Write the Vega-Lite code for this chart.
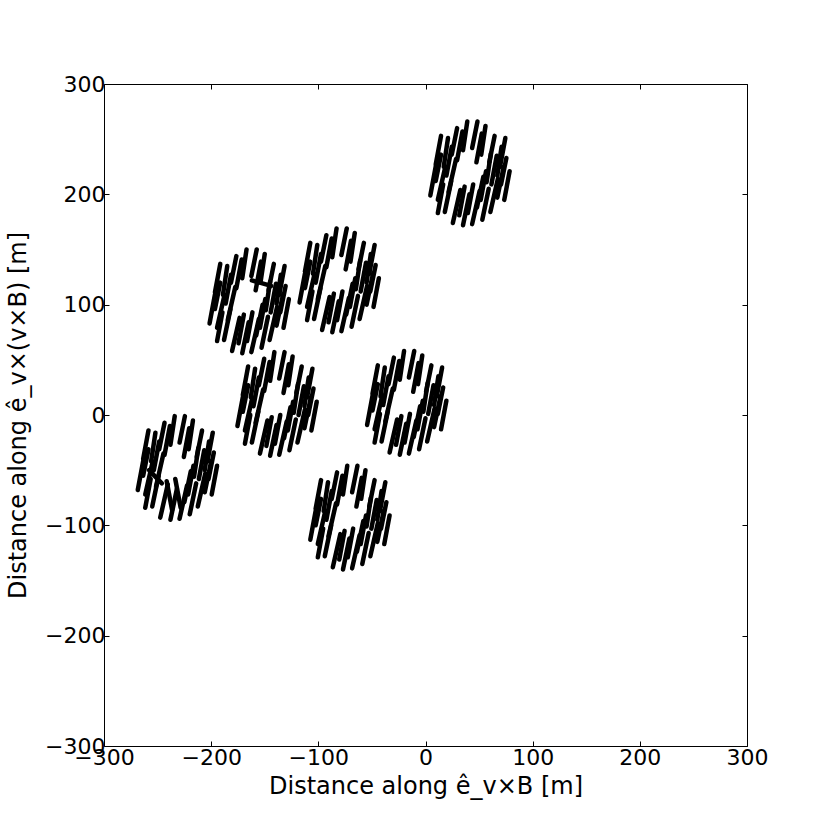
{
 "$schema": "https://vega.github.io/schema/vega-lite/v6.json",
 "width": 643, "height": 662,
 "autosize": "none",
 "padding": {"left": 104, "top": 84, "right": 83, "bottom": 84},
 "background": "white",
 "config": {
  "font": "DejaVu Sans",
  "view": {"stroke": "black", "strokeWidth": 1},
  "axis": {"grid": false, "domain": false, "tickColor": "black", "tickSize": -5, "labelColor": "black", "labelFontSize": 22, "labelFlush": false, "labelOverlap": false, "titleFontSize": 24, "titleFontWeight": "normal", "titleColor": "black"}
 },
 "data": {"values": [
  {"s":1,"x1":9.5,"y1":212,"x2":14.5,"y2":236},
  {"s":1,"x1":11.5,"y1":195,"x2":18.5,"y2":225},
  {"s":1,"x1":17,"y1":225,"x2":21,"y2":251},
  {"s":1,"x1":18,"y1":184,"x2":24,"y2":212},
  {"s":1,"x1":24.5,"y1":236,"x2":29.5,"y2":260},
  {"s":1,"x1":25.5,"y1":174,"x2":32.5,"y2":204},
  {"s":1,"x1":35,"y1":240,"x2":39,"y2":266},
  {"s":1,"x1":35,"y1":172,"x2":41,"y2":200},
  {"s":1,"x1":43.5,"y1":242,"x2":48.5,"y2":266},
  {"s":1,"x1":43.5,"y1":173,"x2":50.5,"y2":203},
  {"s":1,"x1":52,"y1":236,"x2":56,"y2":262},
  {"s":1,"x1":53,"y1":177,"x2":59,"y2":205},
  {"s":1,"x1":59.5,"y1":229,"x2":64.5,"y2":253},
  {"s":1,"x1":60.5,"y1":184,"x2":67.5,"y2":214},
  {"s":1,"x1":67,"y1":217,"x2":71,"y2":243},
  {"s":1,"x1":67,"y1":197,"x2":73,"y2":225},
  {"s":1,"x1":70.5,"y1":209,"x2":75.5,"y2":233},
  {"s":1,"x1":21.5,"y1":202,"x2":28.5,"y2":232},
  {"s":1,"x1":57,"y1":211,"x2":61,"y2":237},
  {"s":1,"x1":48,"y1":188,"x2":54,"y2":216},
  {"s":1,"x1":4.5,"y1":199,"x2":9.5,"y2":225},
  {"s":1,"x1":19.5,"y1":217,"x2":24.5,"y2":243},
  {"s":1,"x1":29.5,"y1":231,"x2":34.5,"y2":257},
  {"s":1,"x1":47.5,"y1":229,"x2":52.5,"y2":255},
  {"s":1,"x1":61.5,"y1":209,"x2":66.5,"y2":235},
  {"s":1,"x1":31.5,"y1":181,"x2":36.5,"y2":207},
  {"s":1,"x1":51.5,"y1":195,"x2":56.5,"y2":221},
  {"s":1,"x1":39.5,"y1":183,"x2":44.5,"y2":209},
  {"s":1,"x1":73.5,"y1":195,"x2":78.5,"y2":221},
  {"s":1,"x1":9.5,"y1":227,"x2":14.5,"y2":253},
  {"s":1,"x1":69.5,"y1":225,"x2":74.5,"y2":251},
  {"s":1,"x1":11.5,"y1":183,"x2":16.5,"y2":209},
  {"s":2,"x1":-196.5,"y1":96,"x2":-191.5,"y2":120},
  {"s":2,"x1":-194.5,"y1":79,"x2":-187.5,"y2":109},
  {"s":2,"x1":-189,"y1":109,"x2":-185,"y2":135},
  {"s":2,"x1":-188,"y1":68,"x2":-182,"y2":96},
  {"s":2,"x1":-181.5,"y1":120,"x2":-176.5,"y2":144},
  {"s":2,"x1":-180.5,"y1":58,"x2":-173.5,"y2":88},
  {"s":2,"x1":-171,"y1":124,"x2":-167,"y2":150},
  {"s":2,"x1":-171,"y1":56,"x2":-165,"y2":84},
  {"s":2,"x1":-162.5,"y1":126,"x2":-157.5,"y2":150},
  {"s":2,"x1":-162.5,"y1":57,"x2":-155.5,"y2":87},
  {"s":2,"x1":-154,"y1":120,"x2":-150,"y2":146},
  {"s":2,"x1":-153,"y1":61,"x2":-147,"y2":89},
  {"s":2,"x1":-146.5,"y1":113,"x2":-141.5,"y2":137},
  {"s":2,"x1":-145.5,"y1":68,"x2":-138.5,"y2":98},
  {"s":2,"x1":-139,"y1":101,"x2":-135,"y2":127},
  {"s":2,"x1":-139,"y1":81,"x2":-133,"y2":109},
  {"s":2,"x1":-135.5,"y1":93,"x2":-130.5,"y2":117},
  {"s":2,"x1":-184.5,"y1":86,"x2":-177.5,"y2":116},
  {"s":2,"x1":-149,"y1":95,"x2":-145,"y2":121},
  {"s":2,"x1":-158,"y1":72,"x2":-152,"y2":100},
  {"s":2,"x1":-162,"y1":122,"x2":-144,"y2":117},
  {"s":2,"x1":-201.5,"y1":83,"x2":-196.5,"y2":109},
  {"s":2,"x1":-186.5,"y1":101,"x2":-181.5,"y2":127},
  {"s":2,"x1":-176.5,"y1":115,"x2":-171.5,"y2":141},
  {"s":2,"x1":-158.5,"y1":113,"x2":-153.5,"y2":139},
  {"s":2,"x1":-144.5,"y1":93,"x2":-139.5,"y2":119},
  {"s":2,"x1":-174.5,"y1":65,"x2":-169.5,"y2":91},
  {"s":2,"x1":-154.5,"y1":79,"x2":-149.5,"y2":105},
  {"s":2,"x1":-166.5,"y1":67,"x2":-161.5,"y2":93},
  {"s":2,"x1":-132.5,"y1":79,"x2":-127.5,"y2":105},
  {"s":2,"x1":-196.5,"y1":111,"x2":-191.5,"y2":137},
  {"s":2,"x1":-136.5,"y1":109,"x2":-131.5,"y2":135},
  {"s":2,"x1":-194.5,"y1":67,"x2":-189.5,"y2":93},
  {"s":3,"x1":-112.5,"y1":115,"x2":-107.5,"y2":139},
  {"s":3,"x1":-110.5,"y1":98,"x2":-103.5,"y2":128},
  {"s":3,"x1":-105,"y1":128,"x2":-101,"y2":154},
  {"s":3,"x1":-104,"y1":87,"x2":-98,"y2":115},
  {"s":3,"x1":-97.5,"y1":139,"x2":-92.5,"y2":163},
  {"s":3,"x1":-96.5,"y1":77,"x2":-89.5,"y2":107},
  {"s":3,"x1":-87,"y1":143,"x2":-83,"y2":169},
  {"s":3,"x1":-87,"y1":75,"x2":-81,"y2":103},
  {"s":3,"x1":-78.5,"y1":145,"x2":-73.5,"y2":169},
  {"s":3,"x1":-78.5,"y1":76,"x2":-71.5,"y2":106},
  {"s":3,"x1":-70,"y1":139,"x2":-66,"y2":165},
  {"s":3,"x1":-69,"y1":80,"x2":-63,"y2":108},
  {"s":3,"x1":-62.5,"y1":132,"x2":-57.5,"y2":156},
  {"s":3,"x1":-61.5,"y1":87,"x2":-54.5,"y2":117},
  {"s":3,"x1":-55,"y1":120,"x2":-51,"y2":146},
  {"s":3,"x1":-55,"y1":100,"x2":-49,"y2":128},
  {"s":3,"x1":-51.5,"y1":112,"x2":-46.5,"y2":136},
  {"s":3,"x1":-100.5,"y1":105,"x2":-93.5,"y2":135},
  {"s":3,"x1":-65,"y1":114,"x2":-61,"y2":140},
  {"s":3,"x1":-74,"y1":91,"x2":-68,"y2":119},
  {"s":3,"x1":-117.5,"y1":102,"x2":-112.5,"y2":128},
  {"s":3,"x1":-102.5,"y1":120,"x2":-97.5,"y2":146},
  {"s":3,"x1":-92.5,"y1":134,"x2":-87.5,"y2":160},
  {"s":3,"x1":-74.5,"y1":132,"x2":-69.5,"y2":158},
  {"s":3,"x1":-60.5,"y1":112,"x2":-55.5,"y2":138},
  {"s":3,"x1":-90.5,"y1":84,"x2":-85.5,"y2":110},
  {"s":3,"x1":-70.5,"y1":98,"x2":-65.5,"y2":124},
  {"s":3,"x1":-82.5,"y1":86,"x2":-77.5,"y2":112},
  {"s":3,"x1":-48.5,"y1":98,"x2":-43.5,"y2":124},
  {"s":3,"x1":-112.5,"y1":130,"x2":-107.5,"y2":156},
  {"s":3,"x1":-52.5,"y1":128,"x2":-47.5,"y2":154},
  {"s":3,"x1":-110.5,"y1":86,"x2":-105.5,"y2":112},
  {"s":4,"x1":-170.5,"y1":3,"x2":-165.5,"y2":27},
  {"s":4,"x1":-168.5,"y1":-14,"x2":-161.5,"y2":16},
  {"s":4,"x1":-163,"y1":16,"x2":-159,"y2":42},
  {"s":4,"x1":-162,"y1":-25,"x2":-156,"y2":3},
  {"s":4,"x1":-155.5,"y1":27,"x2":-150.5,"y2":51},
  {"s":4,"x1":-154.5,"y1":-35,"x2":-147.5,"y2":-5},
  {"s":4,"x1":-145,"y1":31,"x2":-141,"y2":57},
  {"s":4,"x1":-145,"y1":-37,"x2":-139,"y2":-9},
  {"s":4,"x1":-136.5,"y1":33,"x2":-131.5,"y2":57},
  {"s":4,"x1":-136.5,"y1":-36,"x2":-129.5,"y2":-6},
  {"s":4,"x1":-128,"y1":27,"x2":-124,"y2":53},
  {"s":4,"x1":-127,"y1":-32,"x2":-121,"y2":-4},
  {"s":4,"x1":-120.5,"y1":20,"x2":-115.5,"y2":44},
  {"s":4,"x1":-119.5,"y1":-25,"x2":-112.5,"y2":5},
  {"s":4,"x1":-113,"y1":8,"x2":-109,"y2":34},
  {"s":4,"x1":-113,"y1":-12,"x2":-107,"y2":16},
  {"s":4,"x1":-109.5,"y1":0,"x2":-104.5,"y2":24},
  {"s":4,"x1":-158.5,"y1":-7,"x2":-151.5,"y2":23},
  {"s":4,"x1":-123,"y1":2,"x2":-119,"y2":28},
  {"s":4,"x1":-132,"y1":-21,"x2":-126,"y2":7},
  {"s":4,"x1":-175.5,"y1":-10,"x2":-170.5,"y2":16},
  {"s":4,"x1":-160.5,"y1":8,"x2":-155.5,"y2":34},
  {"s":4,"x1":-150.5,"y1":22,"x2":-145.5,"y2":48},
  {"s":4,"x1":-132.5,"y1":20,"x2":-127.5,"y2":46},
  {"s":4,"x1":-118.5,"y1":0,"x2":-113.5,"y2":26},
  {"s":4,"x1":-148.5,"y1":-28,"x2":-143.5,"y2":-2},
  {"s":4,"x1":-128.5,"y1":-14,"x2":-123.5,"y2":12},
  {"s":4,"x1":-140.5,"y1":-26,"x2":-135.5,"y2":0},
  {"s":4,"x1":-106.5,"y1":-14,"x2":-101.5,"y2":12},
  {"s":4,"x1":-170.5,"y1":18,"x2":-165.5,"y2":44},
  {"s":4,"x1":-110.5,"y1":16,"x2":-105.5,"y2":42},
  {"s":4,"x1":-168.5,"y1":-26,"x2":-163.5,"y2":0},
  {"s":5,"x1":-49.5,"y1":4,"x2":-44.5,"y2":28},
  {"s":5,"x1":-47.5,"y1":-13,"x2":-40.5,"y2":17},
  {"s":5,"x1":-42,"y1":17,"x2":-38,"y2":43},
  {"s":5,"x1":-41,"y1":-24,"x2":-35,"y2":4},
  {"s":5,"x1":-34.5,"y1":28,"x2":-29.5,"y2":52},
  {"s":5,"x1":-33.5,"y1":-34,"x2":-26.5,"y2":-4},
  {"s":5,"x1":-24,"y1":32,"x2":-20,"y2":58},
  {"s":5,"x1":-24,"y1":-36,"x2":-18,"y2":-8},
  {"s":5,"x1":-15.5,"y1":34,"x2":-10.5,"y2":58},
  {"s":5,"x1":-15.5,"y1":-35,"x2":-8.5,"y2":-5},
  {"s":5,"x1":-7,"y1":28,"x2":-3,"y2":54},
  {"s":5,"x1":-6,"y1":-31,"x2":0,"y2":-3},
  {"s":5,"x1":0.5,"y1":21,"x2":5.5,"y2":45},
  {"s":5,"x1":1.5,"y1":-24,"x2":8.5,"y2":6},
  {"s":5,"x1":8,"y1":9,"x2":12,"y2":35},
  {"s":5,"x1":8,"y1":-11,"x2":14,"y2":17},
  {"s":5,"x1":11.5,"y1":1,"x2":16.5,"y2":25},
  {"s":5,"x1":-37.5,"y1":-6,"x2":-30.5,"y2":24},
  {"s":5,"x1":-2,"y1":3,"x2":2,"y2":29},
  {"s":5,"x1":-11,"y1":-20,"x2":-5,"y2":8},
  {"s":5,"x1":-54.5,"y1":-9,"x2":-49.5,"y2":17},
  {"s":5,"x1":-39.5,"y1":9,"x2":-34.5,"y2":35},
  {"s":5,"x1":-29.5,"y1":23,"x2":-24.5,"y2":49},
  {"s":5,"x1":-11.5,"y1":21,"x2":-6.5,"y2":47},
  {"s":5,"x1":2.5,"y1":1,"x2":7.5,"y2":27},
  {"s":5,"x1":-27.5,"y1":-27,"x2":-22.5,"y2":-1},
  {"s":5,"x1":-7.5,"y1":-13,"x2":-2.5,"y2":13},
  {"s":5,"x1":-19.5,"y1":-25,"x2":-14.5,"y2":1},
  {"s":5,"x1":14.5,"y1":-13,"x2":19.5,"y2":13},
  {"s":5,"x1":-49.5,"y1":19,"x2":-44.5,"y2":45},
  {"s":5,"x1":10.5,"y1":17,"x2":15.5,"y2":43},
  {"s":5,"x1":-47.5,"y1":-25,"x2":-42.5,"y2":1},
  {"s":6,"x1":-263.5,"y1":-55,"x2":-258.5,"y2":-31},
  {"s":6,"x1":-261.5,"y1":-72,"x2":-254.5,"y2":-42},
  {"s":6,"x1":-256,"y1":-42,"x2":-252,"y2":-16},
  {"s":6,"x1":-255,"y1":-83,"x2":-249,"y2":-55},
  {"s":6,"x1":-248.5,"y1":-31,"x2":-243.5,"y2":-7},
  {"s":6,"x1":-247.5,"y1":-93,"x2":-240.5,"y2":-63},
  {"s":6,"x1":-238,"y1":-27,"x2":-234,"y2":-1},
  {"s":6,"x1":-238,"y1":-95,"x2":-232,"y2":-67},
  {"s":6,"x1":-229.5,"y1":-25,"x2":-224.5,"y2":-1},
  {"s":6,"x1":-229.5,"y1":-94,"x2":-222.5,"y2":-64},
  {"s":6,"x1":-221,"y1":-31,"x2":-217,"y2":-5},
  {"s":6,"x1":-220,"y1":-90,"x2":-214,"y2":-62},
  {"s":6,"x1":-213.5,"y1":-38,"x2":-208.5,"y2":-14},
  {"s":6,"x1":-212.5,"y1":-83,"x2":-205.5,"y2":-53},
  {"s":6,"x1":-206,"y1":-50,"x2":-202,"y2":-24},
  {"s":6,"x1":-206,"y1":-70,"x2":-200,"y2":-42},
  {"s":6,"x1":-202.5,"y1":-58,"x2":-197.5,"y2":-34},
  {"s":6,"x1":-251.5,"y1":-65,"x2":-244.5,"y2":-35},
  {"s":6,"x1":-216,"y1":-56,"x2":-212,"y2":-30},
  {"s":6,"x1":-225,"y1":-79,"x2":-219,"y2":-51},
  {"s":6,"x1":-268.5,"y1":-68,"x2":-263.5,"y2":-42},
  {"s":6,"x1":-253.5,"y1":-50,"x2":-248.5,"y2":-24},
  {"s":6,"x1":-243.5,"y1":-36,"x2":-238.5,"y2":-10},
  {"s":6,"x1":-225.5,"y1":-38,"x2":-220.5,"y2":-12},
  {"s":6,"x1":-211.5,"y1":-58,"x2":-206.5,"y2":-32},
  {"s":6,"x1":-236.5,"y1":-86,"x2":-241.5,"y2":-60},
  {"s":6,"x1":-221.5,"y1":-72,"x2":-216.5,"y2":-46},
  {"s":6,"x1":-228.5,"y1":-84,"x2":-233.5,"y2":-58},
  {"s":6,"x1":-199.5,"y1":-72,"x2":-194.5,"y2":-46},
  {"s":6,"x1":-263.5,"y1":-40,"x2":-258.5,"y2":-14},
  {"s":6,"x1":-203.5,"y1":-42,"x2":-198.5,"y2":-16},
  {"s":6,"x1":-261.5,"y1":-84,"x2":-256.5,"y2":-58},
  {"s":6,"x1":-258,"y1":-50,"x2":-246,"y2":-62},
  {"s":7,"x1":-102.5,"y1":-100,"x2":-97.5,"y2":-76},
  {"s":7,"x1":-100.5,"y1":-117,"x2":-93.5,"y2":-87},
  {"s":7,"x1":-95,"y1":-87,"x2":-91,"y2":-61},
  {"s":7,"x1":-94,"y1":-128,"x2":-88,"y2":-100},
  {"s":7,"x1":-87.5,"y1":-76,"x2":-82.5,"y2":-52},
  {"s":7,"x1":-86.5,"y1":-138,"x2":-79.5,"y2":-108},
  {"s":7,"x1":-77,"y1":-72,"x2":-73,"y2":-46},
  {"s":7,"x1":-77,"y1":-140,"x2":-71,"y2":-112},
  {"s":7,"x1":-68.5,"y1":-70,"x2":-63.5,"y2":-46},
  {"s":7,"x1":-68.5,"y1":-139,"x2":-61.5,"y2":-109},
  {"s":7,"x1":-60,"y1":-76,"x2":-56,"y2":-50},
  {"s":7,"x1":-59,"y1":-135,"x2":-53,"y2":-107},
  {"s":7,"x1":-52.5,"y1":-83,"x2":-47.5,"y2":-59},
  {"s":7,"x1":-51.5,"y1":-128,"x2":-44.5,"y2":-98},
  {"s":7,"x1":-45,"y1":-95,"x2":-41,"y2":-69},
  {"s":7,"x1":-45,"y1":-115,"x2":-39,"y2":-87},
  {"s":7,"x1":-41.5,"y1":-103,"x2":-36.5,"y2":-79},
  {"s":7,"x1":-90.5,"y1":-110,"x2":-83.5,"y2":-80},
  {"s":7,"x1":-55,"y1":-101,"x2":-51,"y2":-75},
  {"s":7,"x1":-64,"y1":-124,"x2":-58,"y2":-96},
  {"s":7,"x1":-107.5,"y1":-113,"x2":-102.5,"y2":-87},
  {"s":7,"x1":-92.5,"y1":-95,"x2":-87.5,"y2":-69},
  {"s":7,"x1":-82.5,"y1":-81,"x2":-77.5,"y2":-55},
  {"s":7,"x1":-64.5,"y1":-83,"x2":-59.5,"y2":-57},
  {"s":7,"x1":-50.5,"y1":-103,"x2":-45.5,"y2":-77},
  {"s":7,"x1":-80.5,"y1":-131,"x2":-75.5,"y2":-105},
  {"s":7,"x1":-60.5,"y1":-117,"x2":-55.5,"y2":-91},
  {"s":7,"x1":-72.5,"y1":-129,"x2":-67.5,"y2":-103},
  {"s":7,"x1":-38.5,"y1":-117,"x2":-33.5,"y2":-91},
  {"s":7,"x1":-102.5,"y1":-85,"x2":-97.5,"y2":-59},
  {"s":7,"x1":-42.5,"y1":-87,"x2":-37.5,"y2":-61},
  {"s":7,"x1":-100.5,"y1":-129,"x2":-95.5,"y2":-103}
 ]},
 "layer": [
  {
   "mark": {"type": "rule", "strokeWidth": 4.5, "strokeCap": "round", "color": "black"},
   "encoding": {
    "x": {"field": "x1", "type": "quantitative", "scale": {"domain": [-300, 300], "nice": false}, "axis": {"orient": "bottom", "values": [-300, -200, -100, 0, 100, 200, 300], "title": "Distance along ê_v×B [m]", "labelPadding": 6, "titlePadding": 6}},
    "y": {"field": "y1", "type": "quantitative", "scale": {"domain": [-300, 300], "nice": false}, "axis": {"orient": "left", "values": [-300, -200, -100, 0, 100, 200, 300], "title": "Distance along ê_v×(v×B) [m]", "labelPadding": 4, "titlePadding": 14}},
    "x2": {"field": "x2"},
    "y2": {"field": "y2"}
   }
  },
  {
   "mark": {"type": "rule", "opacity": 0},
   "encoding": {
    "x": {"field": "x1", "type": "quantitative", "axis": {"orient": "top", "values": [-300, -200, -100, 0, 100, 200, 300], "labels": false, "title": null}},
    "y": {"field": "y1", "type": "quantitative", "axis": {"orient": "right", "values": [-300, -200, -100, 0, 100, 200, 300], "labels": false, "title": null}},
    "x2": {"field": "x2"},
    "y2": {"field": "y2"}
   }
  }
 ],
 "resolve": {"axis": {"x": "independent", "y": "independent"}}
}
